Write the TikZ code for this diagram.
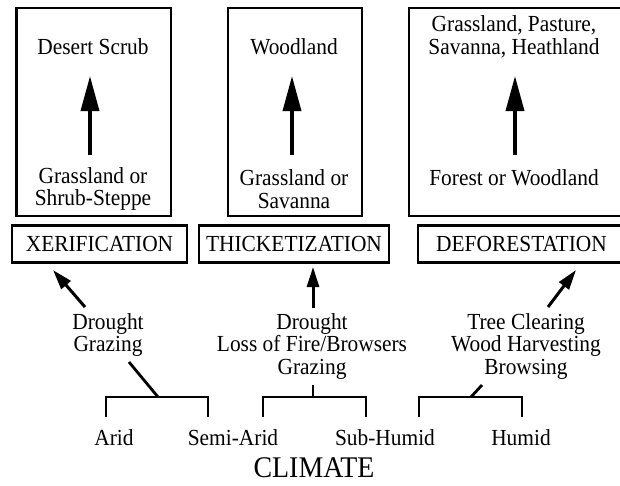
\documentclass[tikz,border=0pt]{standalone}
\usepackage{fontspec}
\setmainfont{Liberation Serif}[FakeStretch=0.93]
\usetikzlibrary{arrows.meta}
\begin{document}
\begin{tikzpicture}[x=1pt,y=-1pt,
  box/.style={draw, line width=2.2pt, inner sep=0pt},
  txt/.style={inner sep=0pt, align=center, font=\fontsize{23}{22.5}\selectfont},
  bigarrow/.style={line width=3.6pt, -{Triangle[length=35pt,width=18pt]}},
  smallarrow/.style={line width=3pt, -{Triangle[length=20pt,width=12pt]}},
  link/.style={line width=2.8pt},
  bracketline/.style={line width=2.8pt, line cap=butt, line join=miter}
]
\useasboundingbox (0,0) rectangle (620,485);

% big boxes
\node[box, minimum width=154.5pt, minimum height=208pt] (b1) at (93.75,112) {};
\node[box, minimum width=134pt, minimum height=208pt] (b2) at (295,112) {};
\node[box, minimum width=216pt, minimum height=208pt] (b3) at (517,112) {};

% texts in big boxes
\node[txt] (t1) at (93,47) {Desert Scrub};
\node[txt] (t2) at (294,47) {Woodland};
\node[txt] (t3) at (514,37) {Grassland, Pasture,\\Savanna, Heathland};
\node[txt] (s1) at (93,189) {Grassland or\\Shrub-Steppe};
\node[txt] (s2) at (294,189) {Grassland or\\Savanna};
\node[txt] (s3) at (514,178) {Forest or Woodland};

% inner arrows
\coordinate (a1s) at (90,155); \coordinate (a1e) at (90,76);
\coordinate (a2s) at (292,155); \coordinate (a2e) at (292,76);
\coordinate (a3s) at (515,155); \coordinate (a3e) at (515,76);
\draw[bigarrow] (a1s) -- (a1e);
\draw[bigarrow] (a2s) -- (a2e);
\draw[bigarrow] (a3s) -- (a3e);

% label boxes
\node[box, txt, minimum width=175pt, minimum height=37pt] (l1) at (99.5,244) {XERIFICATION};
\node[box, txt, minimum width=190pt, minimum height=37pt] (l2) at (294,244) {THICKETIZATION};
\node[box, txt, minimum width=207pt, minimum height=37pt] (l3) at (521.5,244) {DEFORESTATION};

% causes
\node[txt] (c1) at (108,335) {Drought\\Grazing};
\node[txt] (c2) at (312,346) {Drought\\Loss of Fire/Browsers\\Grazing};
\node[txt] (c3) at (526,346) {Tree Clearing\\Wood Harvesting\\Browsing};

% outer arrows
\coordinate (o1s) at (85,307); \coordinate (o1e) at (53,270);
\coordinate (o2s) at (313,308); \coordinate (o2e) at (313,267);
\coordinate (o3s) at (548,307); \coordinate (o3e) at (576,270);
\draw[smallarrow] (o1s) -- (o1e);
\draw[smallarrow] (o2s) -- (o2e);
\draw[smallarrow] (o3s) -- (o3e);

% brackets
\coordinate (k1) at (158,397); \coordinate (k2) at (313,397); \coordinate (k3) at (471,397);
\draw[bracketline] (106,417) -- (106,397) -- (208,397) -- (208,417);
\draw[bracketline] (263,417) -- (263,397) -- (366,397) -- (366,417);
\draw[bracketline] (419,417) -- (419,397) -- (522,397) -- (522,417);

% links from causes to brackets
\coordinate (d1) at (129,362); \coordinate (d2) at (313,385); \coordinate (d3) at (482,385);
\draw[link] (d1) -- (k1);
\draw[link] (d2) -- (k2);
\draw[link] (d3) -- (k3);

% climate labels
\node[txt] (arid) at (114,438) {Arid};
\node[txt] (semi) at (233,438) {Semi-Arid};
\node[txt] (sub) at (385,438) {Sub-Humid};
\node[txt] (humid) at (521,438) {Humid};
\node[inner sep=0pt, font=\fontsize{30}{32}\selectfont] (climate) at (314,468) {CLIMATE};
\end{tikzpicture}
\end{document}
